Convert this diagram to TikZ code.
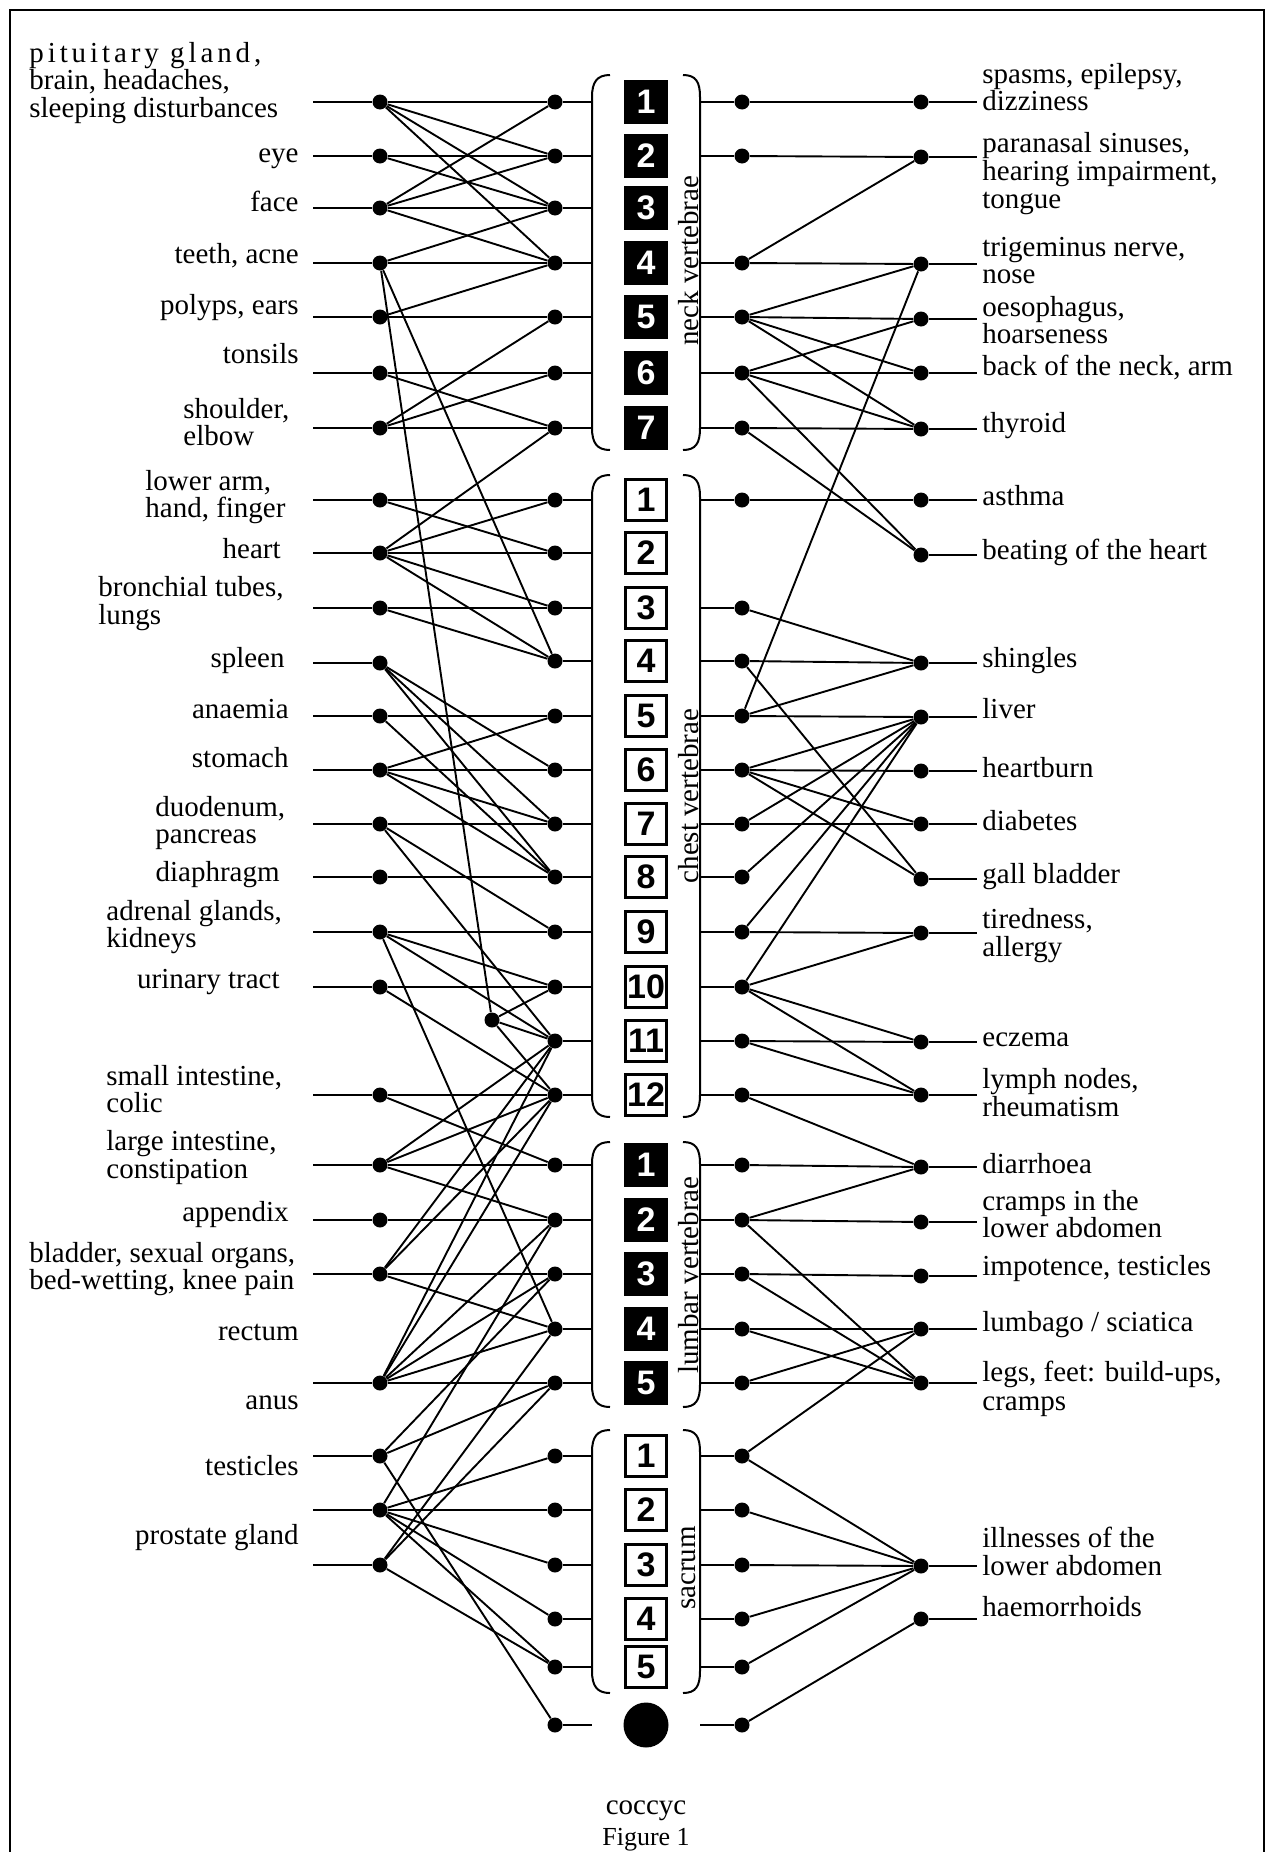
\documentclass[tikz,border=0pt]{standalone}
\usepackage{fontspec}
\setmainfont{Liberation Serif}
\setsansfont{Liberation Sans}
\newfontfamily\spacedfont[LetterSpace=13.5]{Liberation Serif}
\newcommand\lblfont{\fontsize{14.5}{14.5}\selectfont\rmfamily}
\newcommand\vnumfont{\fontsize{17}{17}\selectfont\sffamily\bfseries}
\begin{document}
\begin{tikzpicture}[x=0.5pt,y=-0.5pt,
  dot/.style={circle,fill=black,inner sep=0pt,minimum size=7.5pt},
  conn/.style={line width=0.95pt},
  stub/.style={line width=1.3pt},
  vbox/.style={draw=black,line width=1.6pt,minimum size=20.5pt,inner sep=0pt,font=\vnumfont},
  lbl/.style={inner sep=0pt,font=\lblfont},
  brace/.style={line width=1pt}]
\useasboundingbox (0,0) rectangle (1273,1852);
% frame
\coordinate (fr1) at (9.5,1900); \coordinate (fr2) at (9.5,9.5);
\coordinate (fr3) at (1264,9.5); \coordinate (fr4) at (1264,1900);
\draw[line width=1pt] (fr1) -- (fr2) -- (fr3) -- (fr4);
% vertebrae boxes
\foreach \n/\y/\t/\f/\c in {C1/102/1/black/white, C2/156/2/black/white, C3/208/3/black/white, C4/263/4/black/white, C5/317/5/black/white, C6/373/6/black/white, C7/428/7/black/white,
  T1/500/1/white/black, T2/553/2/white/black, T3/608/3/white/black, T4/661/4/white/black, T5/716/5/white/black, T6/770/6/white/black, T7/824/7/white/black, T8/877/8/white/black, T9/932/9/white/black, T10/987/10/white/black, T11/1041/11/white/black, T12/1095/12/white/black,
  L1/1165/1/black/white, L2/1220/2/black/white, L3/1274/3/black/white, L4/1329/4/black/white, L5/1383/5/black/white,
  S1/1456/1/white/black, S2/1510/2/white/black, S3/1565/3/white/black, S4/1619/4/white/black, S5/1667/5/white/black}
{
  \node[vbox,fill=\f,text=\c] (v\n) at (646,\y) {\t};
}
\node[circle,fill=black,minimum size=22.5pt,inner sep=0pt] (vX) at (646,1725) {};
% left mid dots
\foreach \n/\y in {C1/102, C2/156, C3/208, C4/263, C5/317, C6/373, C7/428, T1/500, T2/553, T3/608, T4/661, T5/716, T6/770, T7/824, T8/877, T9/932, T10/987, T11/1041, T12/1095, L1/1165, L2/1220, L3/1274, L4/1329, L5/1383, S1/1456, S2/1510, S3/1565, S4/1619, S5/1667, X/1725}
{
  \node[dot] (m\n) at (555,\y) {};
  \coordinate (bl\n) at (592,\y);
  \draw[stub] (m\n) -- (bl\n);
}
% right near dots
\foreach \n/\y in {C1/102, C2/156, C4/263, C5/317, C6/373, C7/428, T1/500, T3/608, T4/661, T5/716, T6/770, T7/824, T8/877, T9/932, T10/987, T11/1041, T12/1095, L1/1165, L2/1220, L3/1274, L4/1329, L5/1383, S1/1456, S2/1510, S3/1565, S4/1619, S5/1667, X/1725}
{
  \node[dot] (r\n) at (742,\y) {};
  \coordinate (br\n) at (700,\y);
  \draw[stub] (br\n) -- (r\n);
}
% braces
\foreach \a/\b in {75/450, 475/1117, 1142/1407, 1430/1693}
{
  \draw[brace] (610,\a) .. controls (597,\a) and (592,\a+7) .. (592,\a+22) -- (592,\b-22) .. controls (592,\b-7) and (597,\b) .. (610,\b);
  \draw[brace] (683,\a) .. controls (696,\a) and (700,\a+7) .. (700,\a+22) -- (700,\b-22) .. controls (700,\b-7) and (696,\b) .. (683,\b);
}
\node[lbl,rotate=90] (gneck) at (689,261) {neck vertebrae};
\node[lbl,rotate=90] (gchest) at (689,796) {chest vertebrae};
\node[lbl,rotate=90] (glumb) at (689,1275) {lumbar vertebrae};
\node[lbl,rotate=90] (gsacr) at (689,1568) {sacrum};
% far right dots
\foreach \n/\y in {spasms/102, paran/157, trig/264, oes/319, back/373, thyr/429, asthma/500, beat/555, shing/663, liver/717, hburn/771, diab/824, gall/879, tired/933, eczema/1042, lymph/1095, diarr/1167, cramps/1222, impot/1276, lumb/1329, legs/1383, ill/1566, haem/1619}
{
  \node[dot] (f\n) at (921,\y) {};
  \coordinate (fe\n) at (977,\y);
  \draw[stub] (f\n) -- (fe\n);
}
% left dots
\foreach \n/\y in {pit/102, eye/156, face/208, teeth/263, polyps/317, tons/373, shoul/428, lowarm/500, heart/553, bronch/608, spleen/663, anaem/716, stom/770, duod/824, diaph/877, adren/932, urin/987, smint/1095, lgint/1165, app/1220, blad/1274, anus/1383, test/1456, pros1/1510, pros2/1565}
{
  \coordinate (ls\n) at (313,\y);
  \node[dot] (l\n) at (380,\y) {};
  \draw[stub] (ls\n) -- (l\n);
}
\node[dot] (lx) at (492,1020) {};
% left connections
\foreach \a/\b in {pit/C1, pit/C2, pit/C3, pit/C4, eye/C2, eye/C3, face/C1, face/C2, face/C3, face/C4, teeth/C3, teeth/C4, teeth/T4, polyps/C4, polyps/C5, tons/C6, tons/C7, shoul/C5, shoul/C6, shoul/C7, lowarm/T1, lowarm/T2, heart/C7, heart/T1, heart/T2, heart/T3, heart/T4, bronch/T3, bronch/T4, spleen/T6, spleen/T7, spleen/T8, anaem/T5, anaem/T8, stom/T5, stom/T6, stom/T7, stom/T8, duod/T7, duod/T9, duod/T11, diaph/T8, adren/T9, adren/T10, adren/T11, adren/L4, urin/T10, urin/T12, smint/T12, smint/L1, lgint/T11, lgint/T12, lgint/L1, lgint/L2, app/L2, blad/T11, blad/T12, blad/L3, blad/L4, anus/T11, anus/T12, anus/L2, anus/L3, anus/L4, anus/L5, test/L3, test/L5, test/X, pros1/L2, pros1/S1, pros1/S2, pros1/S3, pros1/S4, pros1/S5, pros2/L4, pros2/L5, pros2/S5}
{
  \draw[conn] (l\a) -- (m\b);
}
\draw[conn] (lteeth) -- (lx);
\foreach \b in {T10,T11,T12} { \draw[conn] (lx) -- (m\b); }
% right connections
\foreach \a/\b in {C1/spasms, C2/paran, C4/paran, C4/trig, C5/trig, C5/oes, C5/back, C5/thyr, C6/oes, C6/back, C6/thyr, C6/beat, C7/thyr, C7/beat, T1/asthma, T3/shing, T4/shing, T4/gall, T5/trig, T5/shing, T5/liver, T6/liver, T6/hburn, T6/diab, T6/gall, T7/liver, T7/diab, T8/liver, T9/liver, T9/tired, T10/liver, T10/tired, T10/eczema, T10/lymph, T11/eczema, T11/lymph, T12/lymph, T12/diarr, L1/diarr, L2/diarr, L2/cramps, L2/legs, L3/impot, L3/legs, L4/lumb, L4/legs, L5/lumb, L5/legs, S1/lumb, S1/ill, S2/ill, S3/ill, S4/ill, S5/ill, X/haem}
{
  \draw[conn] (r\a) -- (f\b);
}
% left labels
\node[lbl,anchor=mid west] (t1) at (29,58) {\spacedfont pituitary gland,};
\node[lbl,anchor=mid west] (t2) at (29,85) {brain, headaches,};
\node[lbl,anchor=mid west] (t3) at (29,113) {sleeping disturbances};
\node[lbl,anchor=mid east] (t4) at (299,158) {eye};
\node[lbl,anchor=mid east] (t5) at (299,207) {face};
\node[lbl,anchor=mid east] (t6) at (299,259) {teeth, acne};
\node[lbl,anchor=mid east] (t7) at (299,310) {polyps, ears};
\node[lbl,anchor=mid east] (t8) at (299,359) {tonsils};
\node[lbl,anchor=mid west] (t9) at (183,414) {shoulder,};
\node[lbl,anchor=mid west] (t10) at (183,441) {elbow};
\node[lbl,anchor=mid west] (t11) at (145,486) {lower arm,};
\node[lbl,anchor=mid west] (t12) at (145,513) {hand, finger};
\node[lbl,anchor=mid east] (t13) at (281,554) {heart};
\node[lbl,anchor=mid west] (t14) at (98,592) {bronchial tubes,};
\node[lbl,anchor=mid west] (t15) at (98,620) {lungs};
\node[lbl,anchor=mid east] (t16) at (285,663) {spleen};
\node[lbl,anchor=mid east] (t17) at (289,714) {anaemia};
\node[lbl,anchor=mid east] (t18) at (289,763) {stomach};
\node[lbl,anchor=mid west] (t19) at (155,812) {duodenum,};
\node[lbl,anchor=mid west] (t20) at (155,839) {pancreas};
\node[lbl,anchor=mid east] (t21) at (280,877) {diaphragm};
\node[lbl,anchor=mid west] (t22) at (106,916) {adrenal glands,};
\node[lbl,anchor=mid west] (t23) at (106,943) {kidneys};
\node[lbl,anchor=mid east] (t24) at (280,984) {urinary tract};
\node[lbl,anchor=mid west] (t25) at (106,1081) {small intestine,};
\node[lbl,anchor=mid west] (t26) at (106,1108) {colic};
\node[lbl,anchor=mid west] (t27) at (106,1146) {large intestine,};
\node[lbl,anchor=mid west] (t28) at (106,1174) {constipation};
\node[lbl,anchor=mid east] (t29) at (289,1217) {appendix};
\node[lbl,anchor=mid west] (t30) at (29,1258) {bladder, sexual organs,};
\node[lbl,anchor=mid west] (t31) at (29,1285) {bed-wetting, knee pain};
\node[lbl,anchor=mid east] (t32) at (299,1336) {rectum};
\node[lbl,anchor=mid east] (t33) at (299,1405) {anus};
\node[lbl,anchor=mid east] (t34) at (299,1471) {testicles};
\node[lbl,anchor=mid east] (t35) at (299,1540) {prostate gland};
% right labels
\foreach \k/\y/\s in {1/79/{spasms, epilepsy,}, 2/106/{dizziness}, 3/148/{paranasal sinuses,}, 4/176/{hearing impairment,}, 5/204/{tongue}, 6/252/{trigeminus nerve,}, 7/279/{nose}, 8/312/{oesophagus,}, 9/339/{hoarseness}, 10/371/{back of the neck, arm}, 11/428/{thyroid}, 12/501/{asthma}, 13/555/{beating of the heart}, 14/663/{shingles}, 15/714/{liver}, 16/773/{heartburn}, 17/826/{diabetes}, 18/879/{gall bladder}, 19/924/{tiredness,}, 20/952/{allergy}, 21/1042/{eczema}, 22/1084/{lymph nodes,}, 23/1112/{rheumatism}, 24/1169/{diarrhoea}, 25/1206/{cramps in the}, 26/1233/{lower abdomen}, 27/1271/{impotence, testicles}, 28/1327/{lumbago / sciatica}, 29/1377/{legs, feet: build-ups,}, 30/1406/{cramps}, 31/1543/{illnesses of the}, 32/1571/{lower abdomen}, 33/1612/{haemorrhoids}}
{
  \node[lbl,anchor=mid west] (rt\k) at (982,\y) {\s};
}
\node[lbl] (tcoc) at (646,1811) {coccyc};
\node[lbl,font=\fontsize{13}{13}\selectfont] (tfig) at (646,1840) {Figure 1};
\end{tikzpicture}
\end{document}
